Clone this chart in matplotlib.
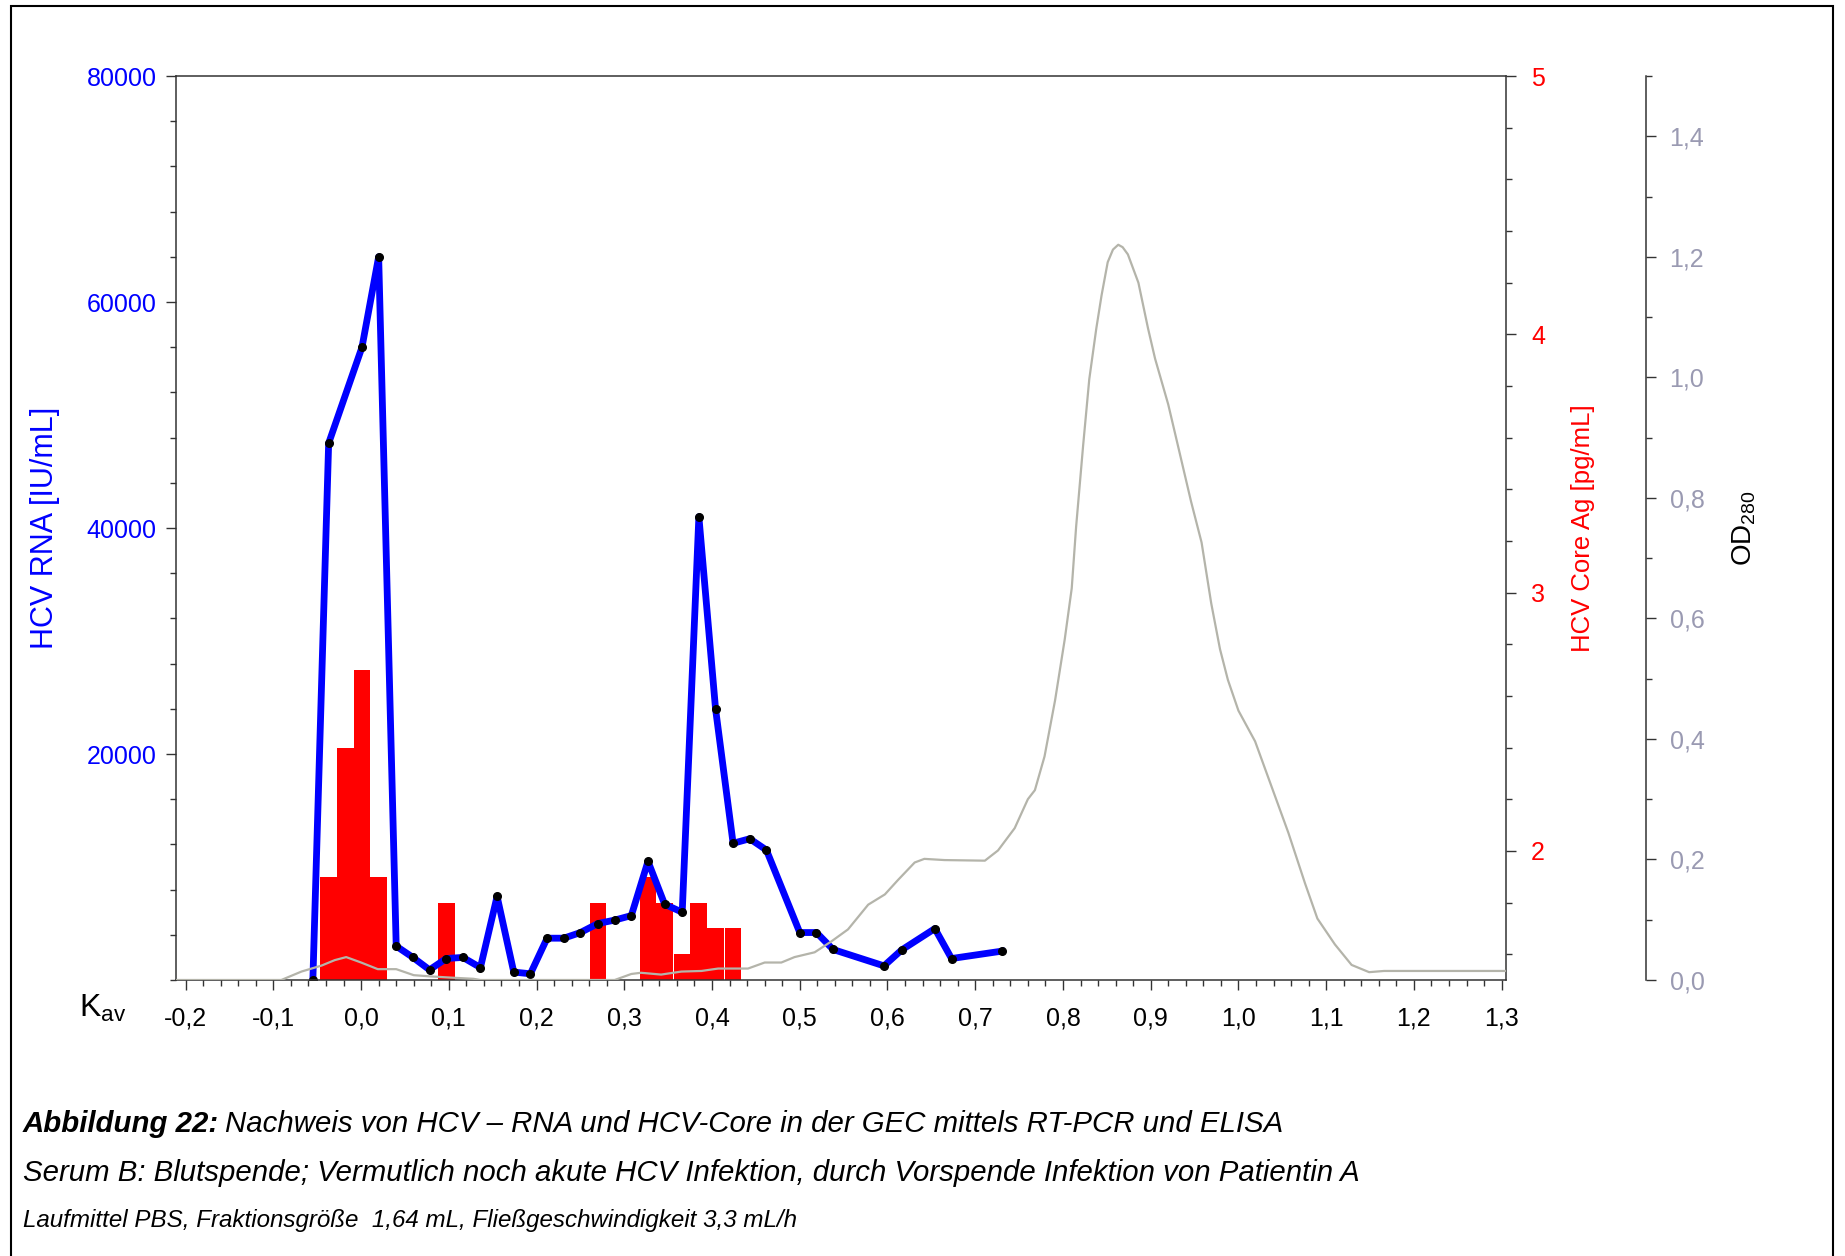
import numpy as np
import matplotlib.pyplot as plt
from matplotlib.ticker import MultipleLocator
from matplotlib.patches import Rectangle

plt.rcParams['font.family'] = ['Liberation Sans', 'DejaVu Sans']
plt.rcParams['mathtext.default'] = 'regular'

# HCV RNA per fraction (Kav, IU/mL)
rna_kav = [-0.055, -0.037, 0.001, 0.020, 0.040, 0.059, 0.078, 0.097, 0.116, 0.136,
           0.155, 0.174, 0.193, 0.212, 0.231, 0.250, 0.270, 0.289, 0.308, 0.327,
           0.346, 0.366, 0.385, 0.404, 0.424, 0.443, 0.462, 0.500, 0.519, 0.538,
           0.596, 0.616, 0.654, 0.673, 0.730]
rna_iu = [0, 47500, 56000, 64000, 3000, 2000, 900, 1900, 2000, 1100,
          7400, 700, 550, 3700, 3700, 4200, 5000, 5300, 5700, 10500,
          6700, 6000, 41000, 24000, 12100, 12500, 11500, 4200, 4200, 2700,
          1250, 2650, 4550, 1900, 2550]

# HCV core antigen (pg/mL)
core_kav = [-0.037, -0.018, 0.001, 0.020, 0.097, 0.270, 0.327, 0.346, 0.366, 0.385, 0.404, 0.424]
core_pg = [1.9, 2.4, 2.7, 1.9, 1.8, 1.8, 1.9, 1.8, 1.6, 1.8, 1.7, 1.7]

# OD280 trace
od_kav = [-0.211, -0.118, -0.091, -0.068, -0.045, -0.030, -0.017, 0.000, 0.019, 0.040,
          0.060, 0.079, 0.102, 0.128, 0.136, 0.289, 0.308, 0.319, 0.342, 0.365,
          0.388, 0.407, 0.441, 0.460, 0.479, 0.494, 0.517, 0.536, 0.555, 0.578,
          0.597, 0.612, 0.631, 0.642, 0.665, 0.711, 0.726, 0.745, 0.760, 0.768,
          0.779, 0.791, 0.802, 0.810, 0.815, 0.823, 0.830, 0.838, 0.844, 0.851,
          0.857, 0.863, 0.868, 0.874, 0.886, 0.897, 0.905, 0.920, 0.931, 0.946,
          0.958, 0.969, 0.979, 0.988, 1.000, 1.019, 1.038, 1.057, 1.076, 1.090,
          1.110, 1.129, 1.149, 1.166, 1.305]
od_280 = [0.0, 0.0, 0.0, 0.014, 0.024, 0.033, 0.038, 0.029, 0.018, 0.018,
          0.008, 0.006, 0.004, 0.002, 0.0, 0.0, 0.010, 0.012, 0.009, 0.014,
          0.015, 0.019, 0.019, 0.029, 0.029, 0.038, 0.046, 0.064, 0.084, 0.125,
          0.142, 0.166, 0.195, 0.201, 0.199, 0.198, 0.215, 0.252, 0.300, 0.315,
          0.371, 0.464, 0.565, 0.650, 0.752, 0.887, 0.997, 1.081, 1.136, 1.191,
          1.212, 1.220, 1.216, 1.204, 1.157, 1.081, 1.031, 0.955, 0.887, 0.794,
          0.726, 0.625, 0.549, 0.498, 0.447, 0.396, 0.320, 0.244, 0.160, 0.102,
          0.059, 0.025, 0.013, 0.015, 0.015]

x_ticks = [-0.2, -0.1, 0.0, 0.1, 0.2, 0.3, 0.4, 0.5, 0.6, 0.7, 0.8, 0.9, 1.0, 1.1, 1.2, 1.3]
x_labels = ['-0,2', '-0,1', '0,0', '0,1', '0,2', '0,3', '0,4', '0,5', '0,6', '0,7',
            '0,8', '0,9', '1,0', '1,1', '1,2', '1,3']
rna_ticks = [20000, 40000, 60000, 80000]
rna_labels = ['20000', '40000', '60000', '80000']
core_ticks = [2, 3, 4, 5]
core_labels = ['2', '3', '4', '5']
od_ticks = [0.0, 0.2, 0.4, 0.6, 0.8, 1.0, 1.2, 1.4]
od_labels = ['0,0', '0,2', '0,4', '0,6', '0,8', '1,0', '1,2', '1,4']

BLUE = '#0000ff'
RED = '#ff0000'
GREY = '#b4b4aa'
OD_COL = '#9a9ab2'
SPINE = '#333333'
TICKSIZE = 18

W, H = 1845, 1256
fig = plt.figure(figsize=(W / 100, H / 100), dpi=100)
ax = fig.add_axes([176 / W, 1 - 980 / H, 1330 / W, 904 / H])
ax_core = ax.twinx()
ax_od = ax.twinx()

# layering: bars below, RNA line, OD trace on top
ax_core.set_zorder(1)
ax.set_zorder(2)
ax_od.set_zorder(3)
ax.patch.set_visible(False)

ax_core.bar(core_kav, core_pg, width=0.0191, color=RED, linewidth=0)
ax.plot(rna_kav, rna_iu, color=BLUE, lw=4.9, marker='o', ms=5.5,
        mfc='black', mec='black')
ax_od.plot(od_kav, od_280, color=GREY, lw=1.6)

ax.set_xlim(-0.211, 1.305)
ax.set_ylim(0, 80000)
ax_core.set_ylim(1.5, 5)
ax_od.set_ylim(0, 1.5)

ax.set_xticks(x_ticks, x_labels)
ax.xaxis.set_minor_locator(MultipleLocator(0.02))
ax.set_yticks(rna_ticks, rna_labels)
ax.yaxis.set_minor_locator(MultipleLocator(4000))
ax_core.set_yticks(core_ticks, core_labels)
ax_core.yaxis.set_minor_locator(MultipleLocator(0.2))
ax_od.set_yticks(od_ticks, od_labels)
ax_od.yaxis.set_minor_locator(MultipleLocator(0.1))

for a in (ax, ax_core, ax_od):
    for s in a.spines.values():
        s.set_color(SPINE)
        s.set_linewidth(1.1)
    a.tick_params(which='major', length=7, width=1, color=SPINE, labelsize=TICKSIZE)
    a.tick_params(which='minor', length=4, width=1, color=SPINE)

ax.spines['right'].set_visible(False)
for k in ('left', 'top', 'bottom'):
    ax_core.spines[k].set_visible(False)
    ax_od.spines[k].set_visible(False)
ax_od.spines['right'].set_position(('axes', 1470 / 1330))

ax.tick_params(axis='x', which='major', pad=12)
ax.tick_params(axis='y', which='major', pad=7, labelcolor=BLUE)
ax_core.tick_params(axis='y', which='major', pad=11, labelcolor=RED)
ax_od.tick_params(axis='y', which='major', pad=10, labelcolor=OD_COL)

ax.text((45 - 176) / 1330, 0.5, 'HCV RNA [IU/mL]', transform=ax.transAxes,
        rotation=90, ha='center', va='center', color=BLUE, fontsize=22)
ax.text((1583 - 176) / 1330, 0.5, 'HCV Core Ag [pg/mL]', transform=ax.transAxes,
        rotation=90, ha='center', va='center', color=RED, fontsize=18.5)
ax.text((1744 - 176) / 1330, 0.5, 'OD$_{280}$', transform=ax.transAxes,
        rotation=90, ha='center', va='center', color='black', fontsize=20)
fig.text(103 / W, 1 - 1008 / H, 'K$_{av}$', ha='center', va='center', fontsize=23)

# caption
cap_x = 23 / W
CAP = 21.2
t1 = fig.text(cap_x, 1 - 1124 / H, 'Abbildung 22:', fontsize=CAP,
              fontweight='bold', fontstyle='italic', va='center')
fig.canvas.draw()
bb = t1.get_window_extent()
fig.text(bb.x1 / W + 6 / W, 1 - 1124 / H,
         'Nachweis von HCV \u2013 RNA und HCV-Core in der GEC mittels RT-PCR und ELISA',
         fontsize=CAP, fontstyle='italic', va='center')
fig.text(cap_x, 1 - 1173 / H,
         'Serum B: Blutspende; Vermutlich noch akute HCV Infektion, durch Vorspende Infektion von Patientin A',
         fontsize=CAP, fontstyle='italic', va='center')
fig.text(cap_x, 1 - 1220 / H,
         'Laufmittel PBS, Fraktionsgr\u00f6\u00dfe  1,64 mL, Flie\u00dfgeschwindigkeit 3,3 mL/h',
         fontsize=17.4, fontstyle='italic', va='center')

frame = Rectangle((11 / W, -0.1), (1833 - 11) / W, 1.1 - 6 / H, transform=fig.transFigure,
                  fill=False, edgecolor='black', linewidth=1.5, clip_on=False)
fig.add_artist(frame)

fig.savefig('out.png', dpi=100)
